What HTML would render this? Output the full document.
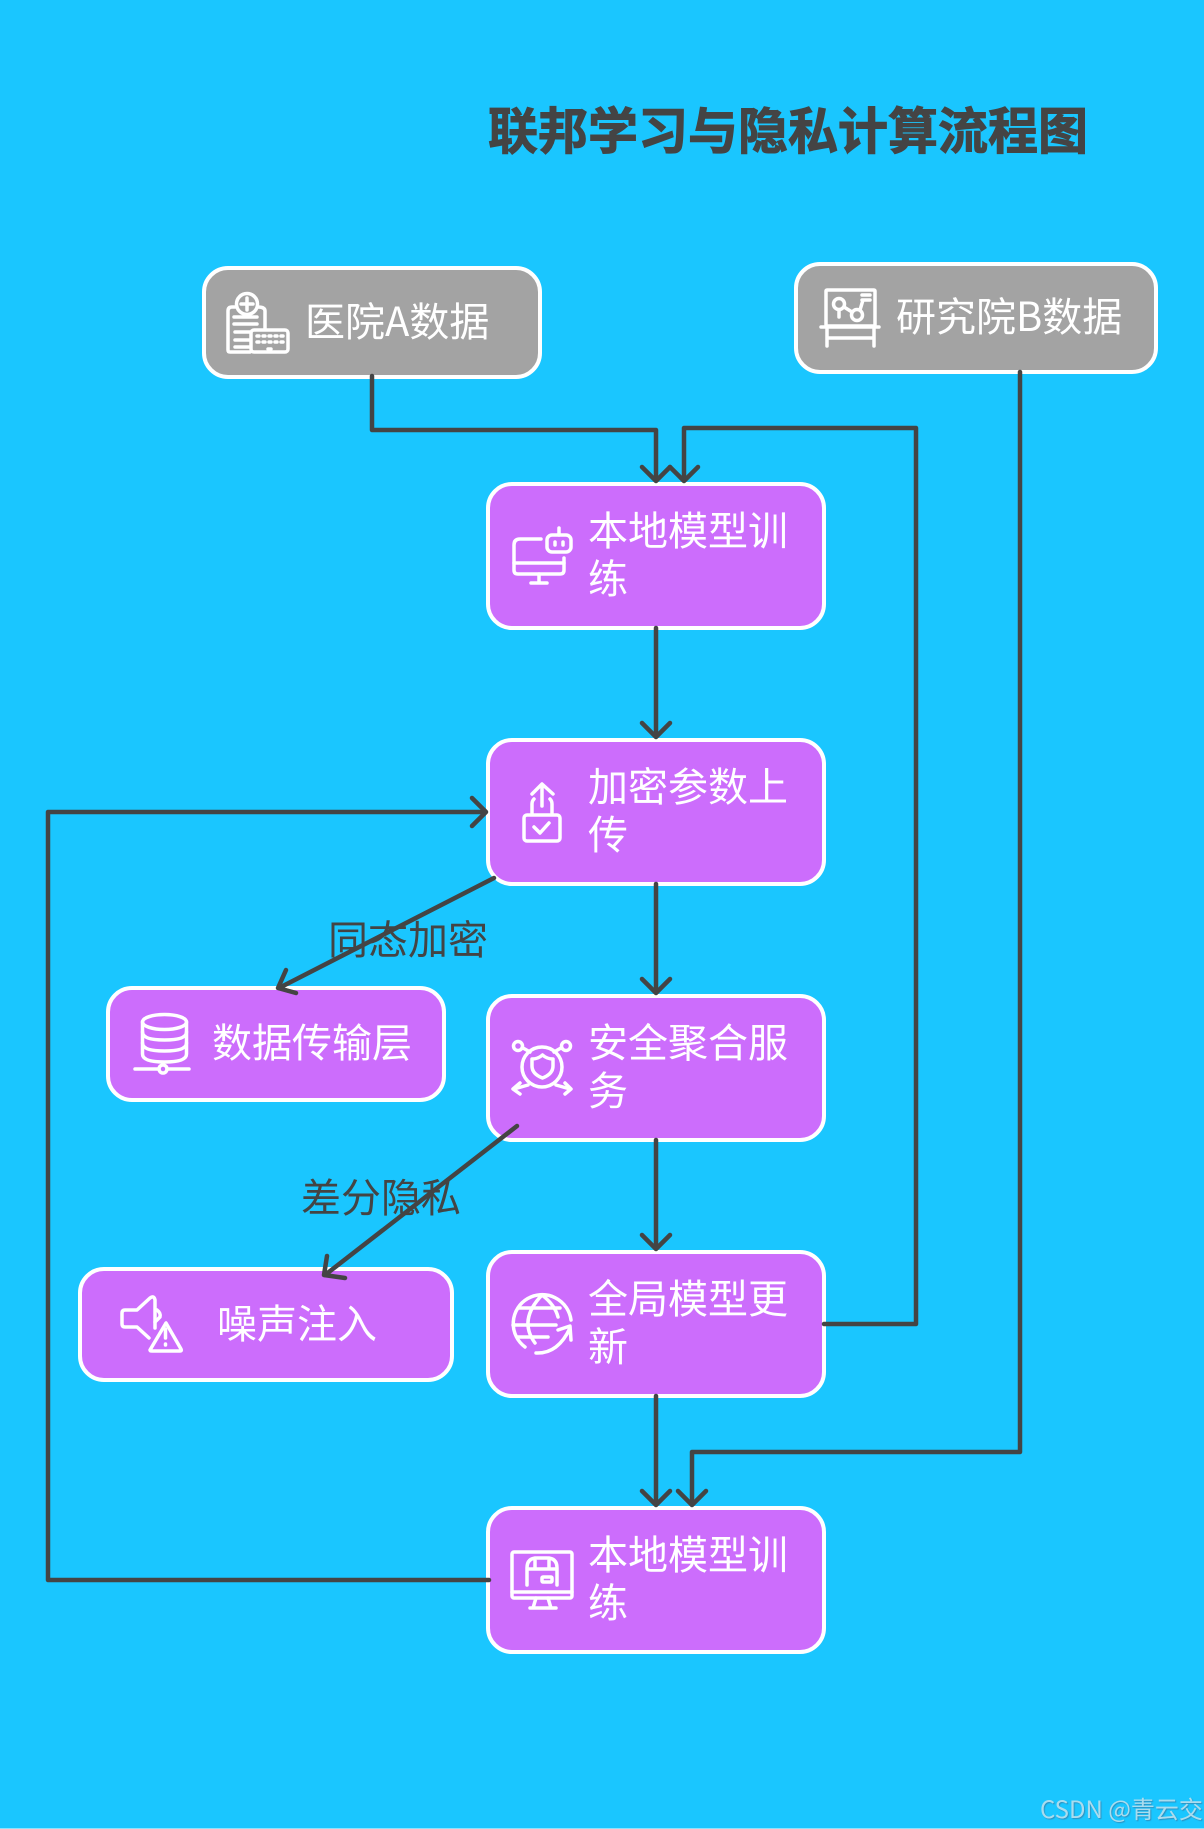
<!DOCTYPE html>
<html lang="zh"><head><meta charset="utf-8"><title>联邦学习与隐私计算流程图</title>
<style>
html,body{margin:0;padding:0;background:#1ac6ff}
body{width:1204px;height:1829px;overflow:hidden;position:relative}
svg{position:absolute;left:0;top:0;display:block}
text{font-family:"Noto Sans CJK SC","Liberation Sans",sans-serif;font-size:40px}
.t{fill:#fff}.l{fill:#444}
.node{stroke:#fff;stroke-width:4}
.c{fill:none;stroke:#444;stroke-width:4.500;stroke-linecap:round;stroke-linejoin:round}
.i{fill:none;stroke:#fff;stroke-width:3.500;stroke-linecap:round;stroke-linejoin:round}
#wm{position:absolute;left:1040px;top:1792px;font:24px/32px "Noto Sans CJK SC","Liberation Sans",sans-serif;color:#aadcee;text-shadow:1px 1px 1px rgba(60,110,150,.6);white-space:nowrap}
</style></head><body>
<svg width="1204" height="1829" viewBox="0 0 1204 1829" xmlns="http://www.w3.org/2000/svg">
<rect width="1204" height="1829" fill="#1ac6ff"/>
<text x="488" y="149" class="l" style="font-weight:700;font-size:50px;stroke:#444;stroke-width:1">联邦学习与隐私计算流程图</text>

<!-- nodes -->
<g fill="#a3a3a3">
<rect class="node" x="204" y="268" width="336" height="109" rx="24"/>
<rect class="node" x="796" y="264" width="360" height="108" rx="24"/>
</g>
<g fill="#cc6dfc">
<rect class="node" x="488" y="484" width="336" height="144" rx="24"/>
<rect class="node" x="488" y="740" width="336" height="144" rx="24"/>
<rect class="node" x="488" y="996" width="336" height="144" rx="24"/>
<rect class="node" x="488" y="1252" width="336" height="144" rx="24"/>
<rect class="node" x="488" y="1508" width="336" height="144" rx="24"/>
<rect class="node" x="108" y="988" width="336" height="112" rx="24"/>
<rect class="node" x="80" y="1269" width="372" height="111" rx="24"/>
</g>

<!-- node text -->
<text x="305" y="336" class="t">医院A数据</text>
<text x="896" y="331" class="t">研究院B数据</text>
<text x="588" y="545" class="t">本地模型训</text><text x="588" y="593" class="t">练</text>
<text x="588" y="801" class="t">加密参数上</text><text x="588" y="849" class="t">传</text>
<text x="588" y="1057" class="t">安全聚合服</text><text x="588" y="1105" class="t">务</text>
<text x="588" y="1313" class="t">全局模型更</text><text x="588" y="1361" class="t">新</text>
<text x="588" y="1569" class="t">本地模型训</text><text x="588" y="1617" class="t">练</text>
<text x="212" y="1057" class="t">数据传输层</text>
<text x="217" y="1338" class="t">噪声注入</text>

<!-- edge labels -->
<text x="328" y="954" class="l">同态加密</text>
<text x="301" y="1212" class="l">差分隐私</text>

<!-- connectors -->
<g class="c">
<path d="M372 376V430H656V480"/><path d="M642 467L656 481L670 467"/>
<path d="M824 1324H916V428H684V480"/><path d="M670 467L684 481L698 467"/>
<path d="M656 628V736"/><path d="M642 723L656 737L670 723"/>
<path d="M656 884V992"/><path d="M642 979L656 993L670 979"/>
<path d="M656 1140V1248"/><path d="M642 1235L656 1249L670 1235"/>
<path d="M656 1396V1504"/><path d="M642 1491L656 1505L670 1491"/>
<path d="M1020 372V1452H692V1504"/><path d="M678 1491L692 1505L706 1491"/>
<path d="M489 1580H48V812H484"/><path d="M472 798L486 812L472 826"/>
<path d="M494 878L279 988"/><path d="M296 993L278 988L286 970"/>
<path d="M517 1126L325 1275"/><path d="M345 1278L324 1275L327 1256"/>
</g>

<!-- icon hospital -->
<g class="i">
<circle cx="247" cy="304" r="10.500"/><path d="M247 298V310M241 304H253"/>
<path d="M235 307H232Q228 307 228 311V350Q228 352 230 352H250"/><path d="M258 307Q265 307 265 311V329"/>
<path d="M234 317H257M234 324H257M235 332H250M235 340H250M235 347H250"/>
<rect x="251" y="330" width="37" height="22" rx="3"/>
<path d="M257 336H259M263 336H265M269 336H271M275 336H277M281 336H283M257 342H259M263 342H265M269 342H271M275 342H277M281 342H283M268 349H271"/>
</g>
<!-- icon research -->
<g class="i">
<rect x="826" y="290" width="49" height="36" rx="1"/>
<path d="M821 327H879M827 327V346M874 327V346M827 338H874"/>
<circle cx="839" cy="304" r="5.500"/><circle cx="857" cy="315" r="5.500"/>
<path d="M839 310V317M844 307L852 312M860 310L863 300M862 295H870M862 300H870"/>
</g>
<!-- icon robot monitor -->
<g class="i">
<path d="M541 539H520Q514 539 514 545V570Q514 574 518 574H560Q564 574 564 570V558"/>
<path d="M514 563H564M539 574V583M531 583H547"/>
<rect x="547" y="535" width="24" height="17" rx="5"/>
<path d="M559 528V535M555 542V545M563 542V545"/>
</g>
<!-- icon lock -->
<g class="i">
<rect x="524" y="815" width="36" height="26" rx="3"/>
<path d="M534 827L540 833L549 823"/>
<path d="M542 785V806M532 794L542 784L553 794"/>
<path d="M532 813V804Q532 801 534 799M552 813V804Q552 801 550 799"/>
</g>
<!-- icon shield -->
<g class="i">
<circle cx="542" cy="1067" r="20"/>
<path d="M532 1059Q538 1059 542.500 1055Q547 1059 553 1059V1066Q553 1074 542.500 1078Q532 1074 532 1066Z"/>
<circle cx="518" cy="1046" r="4.500"/><circle cx="566" cy="1046" r="4.500"/>
<path d="M523 1048L530 1052M561 1048L554 1052M528 1085L514 1089M556 1085L570 1089"/>
<path d="M520 1083L513 1089L520 1094M565 1083L571 1089L565 1094"/>
</g>
<!-- icon database -->
<g class="i">
<ellipse cx="164.500" cy="1022" rx="22" ry="7.500"/>
<path d="M142.500 1022V1054Q142.500 1062 164.500 1062Q186.500 1062 186.500 1054V1022"/>
<path d="M142.500 1032Q142.500 1040 164.500 1040Q186.500 1040 186.500 1032M142.500 1043Q142.500 1051 164.500 1051Q186.500 1051 186.500 1043"/>
<path d="M135 1069H159M167 1069H189"/><circle cx="163" cy="1069" r="4"/>
</g>
<!-- icon speaker -->
<g class="i">
<path d="M155 1322V1300Q154 1295 150 1298L137 1310H125Q122 1310 122 1313V1324Q122 1327 125 1327H137L149 1338"/>
<path d="M157 1310Q161 1313 160 1317L155 1322V1328"/>
<path d="M166 1323L150 1350Q150 1351 152 1351H180Q182 1351 181 1349Z"/>
<path d="M165.500 1329V1338M165.500 1344V1345"/>
</g>
<!-- icon globe -->
<g class="i">
<path d="M525 1347A29 29 0 1 1 571 1320"/>
<path d="M536 1353Q558 1354 570 1328M558 1330L570 1326L571 1340"/>
<path d="M542 1295Q518 1320 535 1343M542 1295Q555 1305 558 1317"/>
<path d="M519 1308H560M513 1325H556M518 1337H548"/>
</g>
<!-- icon monitor shop -->
<g class="i">
<rect x="512" y="1552" width="60" height="46" rx="2"/>
<path d="M512 1592H572M536 1598L533 1608M548 1598L551 1608M530 1608H556"/>
<path d="M527 1585V1568Q527 1558 537 1558H547Q557 1558 557 1568V1585M527 1569H557M535 1558V1569M549 1558V1569"/>
<rect x="542" y="1577" width="10" height="5" rx="1"/>
</g>
<rect x="0" y="1828" width="1204" height="1" fill="#8fe0fb"/>
</svg>
<div id="wm">CSDN @青云交</div>
</body></html>
